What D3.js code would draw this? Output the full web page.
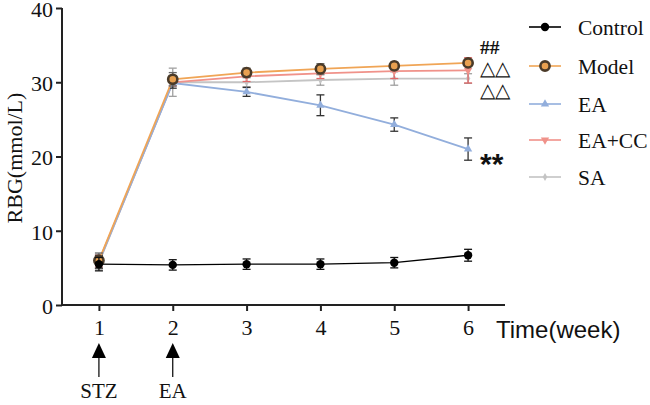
<!DOCTYPE html>
<html><head><meta charset="utf-8">
<script src="https://cdn.jsdelivr.net/npm/d3@7"></script>
<style>html,body{margin:0;padding:0;background:#fff;}svg{display:block;}</style>
</head><body>
<svg id="c" width="650" height="405"></svg>
<script>
const weeks = [1, 2, 3, 4, 5, 6];
const yTicks = [0, 10, 20, 30, 40];
const seriesNames = ["Control", "Model", "EA", "EA+CC", "SA"];
const controlMean = [5.5, 5.4, 5.5, 5.5, 5.7, 6.7];
const controlErr  = [0.9, 0.7, 0.7, 0.7, 0.7, 0.8];
const modelMean   = [6.0, 30.4, 31.3, 31.8, 32.2, 32.6];
const modelErr    = [1.0, 0.9, 0.6, 0.7, 0.5, 0.4];
const eaMean      = [5.8, 29.9, 28.7, 26.9, 24.3, 21.0];
const eaErr       = [0.9, 0.7, 0.6, 1.4, 0.9, 1.5];
const eaccMean    = [5.9, 30.0, 30.8, 31.2, 31.5, 31.6];
const eaccErr     = [0.8, 0.5, 0.7, 0.7, 1.0, 1.7];
const saMean      = [5.7, 30.0, 30.0, 30.3, 30.5, 30.5];
const saErr       = [0.8, 1.9, 0.6, 0.7, 0.9, 0.65];
const annotations = [
  {text: "##", week: 6, value: 34.8, bold: true},
  {text: "△△", week: 6, value: 31.9, bold: false},
  {text: "△△", week: 6, value: 29.0, bold: false},
  {text: "**", week: 6, value: 20.1, bold: true}
];
const events = [{week: 1, label: "STZ"}, {week: 2, label: "EA"}];

const series = [
  {name: "SA", mean: saMean, err: saErr, color: "#C4C4C4", errColor: "#A0A0A0", marker: "diamond"},
  {name: "EA+CC", mean: eaccMean, err: eaccErr, color: "#F0928A", errColor: "#E06868", marker: "down"},
  {name: "EA", mean: eaMean, err: eaErr, color: "#92AEDC", errColor: "#333333", marker: "up"},
  {name: "Model", mean: modelMean, err: modelErr, color: "#F0A556", errColor: "#666666", marker: "model"},
  {name: "Control", mean: controlMean, err: controlErr, color: "#000000", errColor: "#111111", marker: "dot"}
];

const svg = d3.select("#c");
const x = d3.scaleLinear().domain([0.5, 6.5]).range([62, 505]);
const y = d3.scaleLinear().domain([0, 40]).range([305, 8]);
const serif = "'Liberation Serif','Times New Roman',serif";
const sans = "'Liberation Sans',Arial,sans-serif";

// axes
const yAxis = svg.append("g").attr("transform", "translate(62,0)")
  .call(d3.axisLeft(y).tickValues(yTicks).tickFormat(d3.format("d")).tickSize(6).tickPadding(3));
const xAxis = svg.append("g").attr("transform", "translate(0,305)")
  .call(d3.axisBottom(x).tickValues(weeks).tickFormat(d3.format("d")).tickSize(6).tickPadding(8));
[yAxis, xAxis].forEach(g => {
  g.select(".domain").attr("stroke", "#222").attr("stroke-width", 2);
  g.selectAll(".tick line").attr("stroke", "#222").attr("stroke-width", 2);
  g.selectAll(".tick text").attr("fill", "#111").style("font-family", serif).style("font-size", "22px");
});
yAxis.selectAll(".tick text").attr("dy", "0.38em");
yAxis.select(".domain").attr("d", "M0," + y(40) + "V" + y(0));
xAxis.select(".domain").attr("d", "M" + x(0.5) + ",0H" + x(6.5));

svg.append("text").attr("transform", "translate(22,158) rotate(-90)")
  .attr("text-anchor", "middle").style("font-family", serif).style("font-size", "22px").attr("fill", "#111")
  .text("RBG(mmol/L)");
svg.append("text").attr("x", 496).attr("y", 338)
  .style("font-family", sans).style("font-size", "24px").attr("fill", "#111")
  .text("Time(week)");

function drawMarker(g, type, color, cx, cy) {
  if (type === "dot") {
    g.append("circle").attr("cx", cx).attr("cy", cy).attr("r", 4.2).attr("fill", "#000");
  } else if (type === "model") {
    g.append("circle").attr("cx", cx).attr("cy", cy).attr("r", 4.6).attr("fill", "#E8A050")
      .attr("stroke", "#4a3a28").attr("stroke-width", 2.6);
  } else if (type === "up") {
    g.append("path").attr("d", d3.symbol(d3.symbolTriangle, 30)()).attr("transform", `translate(${cx},${cy})`).attr("fill", color);
  } else if (type === "down") {
    g.append("path").attr("d", d3.symbol(d3.symbolTriangle, 30)()).attr("transform", `translate(${cx},${cy}) rotate(180)`).attr("fill", color);
  } else if (type === "diamond") {
    g.append("path").attr("d", d3.symbol(d3.symbolDiamond, 18)()).attr("transform", `translate(${cx},${cy})`).attr("fill", color);
  }
}

const line = d3.line().x((d, i) => x(weeks[i])).y(d => y(d));
series.forEach(s => {
  const g = svg.append("g");
  g.append("path").datum(s.mean).attr("d", line).attr("fill", "none")
    .attr("stroke", s.color).attr("stroke-width", s.name === "Control" ? 1.3 : 1.8);
  s.mean.forEach((m, i) => {
    const cx = x(weeks[i]), y1 = y(m + s.err[i]), y2 = y(m - s.err[i]);
    g.append("line").attr("x1", cx).attr("x2", cx).attr("y1", y1).attr("y2", y2).attr("stroke", s.errColor).attr("stroke-width", 1.3);
    [y1, y2].forEach(yy => g.append("line").attr("x1", cx - 4).attr("x2", cx + 4).attr("y1", yy).attr("y2", yy).attr("stroke", s.errColor).attr("stroke-width", 1.3));
    drawMarker(g, s.marker, s.color, cx, y(m));
  });
});

// annotations
annotations.forEach(a => {
  const isStar = a.text === "**";
  svg.append("text").attr("x", x(a.week) + 12).attr("y", y(a.value))
    .attr("dy", isStar ? "0.62em" : "0.36em")
    .style("font-family", isStar ? sans : serif)
    .style("font-size", isStar ? "30px" : "19.5px")
    .style("font-weight", a.bold ? "bold" : "normal").attr("fill", "#111")
    .text(a.text);
});

// legend
const legendOrder = seriesNames.map(n => series.find(s => s.name === n));
const legendY = [27, 66, 104, 140, 177];
legendOrder.forEach((s, i) => {
  const g = svg.append("g");
  const ly = legendY[i];
  g.append("line").attr("x1", 529).attr("x2", 561).attr("y1", ly).attr("y2", ly).attr("stroke", s.color).attr("stroke-width", 1.6);
  drawMarker(g, s.marker, s.color, 545, ly);
  g.append("text").attr("x", 578).attr("y", ly).attr("dy", "0.35em")
    .style("font-family", serif).style("font-size", "21.5px").attr("fill", "#111").text(s.name);
});

// event arrows
events.forEach(e => {
  const cx = x(e.week);
  svg.append("path").attr("d", `M${cx},343L${cx - 7},358L${cx + 7},358Z`).attr("fill", "#000");
  svg.append("line").attr("x1", cx).attr("x2", cx).attr("y1", 357).attr("y2", 377).attr("stroke", "#000").attr("stroke-width", 1.2);
  svg.append("text").attr("x", cx).attr("y", 398).attr("text-anchor", "middle")
    .style("font-family", serif).style("font-size", "21px").attr("fill", "#111").text(e.label);
});
</script>
</body></html>
